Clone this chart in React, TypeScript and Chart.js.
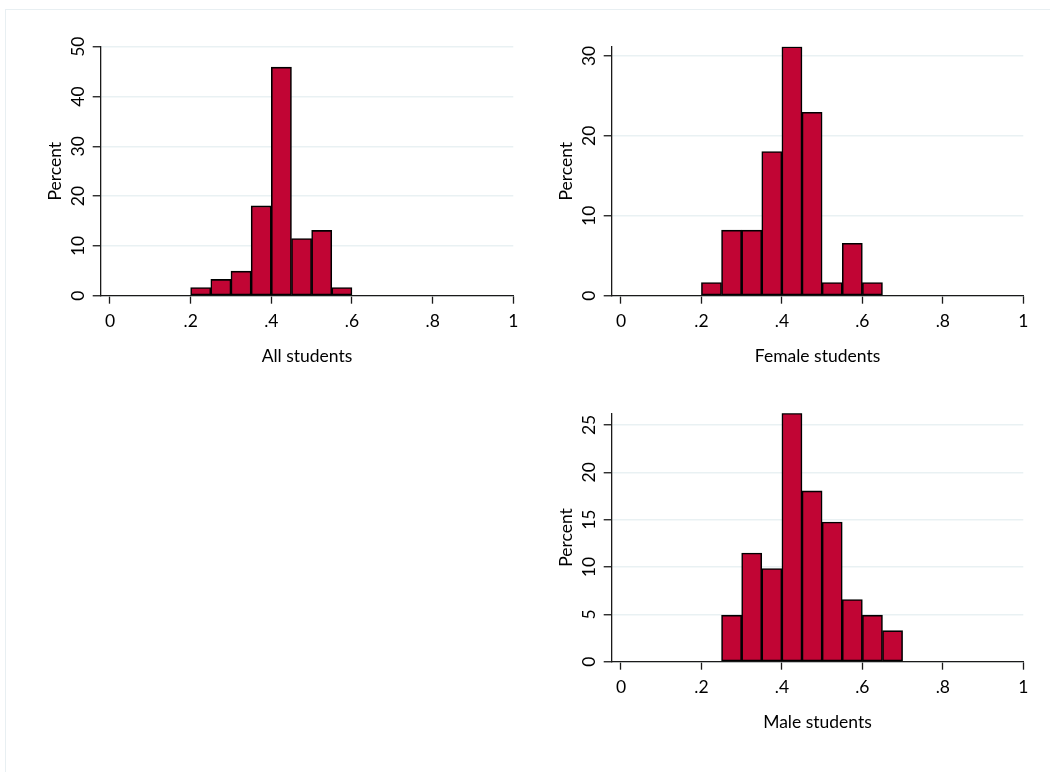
import React, { useEffect, useRef } from "react";
import { Chart, registerables } from "chart.js";

Chart.register(...registerables);

// ---- data ----
const binWidth = 0.05;

const allBinStarts = [0.2, 0.25, 0.3, 0.35, 0.4, 0.45, 0.5, 0.55];
const allPercent = [1.64, 3.28, 4.92, 18.03, 45.9, 11.48, 13.11, 1.64];

const femaleBinStarts = [0.2, 0.25, 0.3, 0.35, 0.4, 0.45, 0.5, 0.55, 0.6];
const femalePercent = [1.64, 8.2, 8.2, 18.03, 31.15, 22.95, 1.64, 6.56, 1.64];

const maleBinStarts = [0.25, 0.3, 0.35, 0.4, 0.45, 0.5, 0.55, 0.6, 0.65];
const malePercent = [4.92, 11.48, 9.84, 26.23, 18.03, 14.75, 6.56, 4.92, 3.28];

const xTickValues = [0, 0.2, 0.4, 0.6, 0.8, 1];
const xTickLabels = ["0", ".2", ".4", ".6", ".8", "1"];

const allYTicks = [0, 10, 20, 30, 40, 50];
const femaleYTicks = [0, 10, 20, 30];
const maleYTicks = [0, 5, 10, 15, 20, 25];

const yAxisTitle = "Percent";
const allTitle = "All students";
const femaleTitle = "Female students";
const maleTitle = "Male students";

// ---- styles ----
const FONT = "Lato";
const FS = 17.5;
const BAR_FILL = "#c10534";
const GRID = "#e9f1f3";
const AXIS = "#1a1a1a";
const CW = 520;
const CH = 360;

type Props = {
  left: number;
  top: number;
  binStarts: number[];
  percents: number[];
  yTicks: number[];
  title: string;
  padTop: number;
  padRight: number;
};

function Histogram({ left, top, binStarts, percents, yTicks, title, padTop, padRight }: Props) {
  const ref = useRef<HTMLCanvasElement | null>(null);

  useEffect(() => {
    if (!ref.current) return;
    const yMax = Math.max(yTicks[yTicks.length - 1], ...percents);
    const chart = new Chart(ref.current, {
      type: "bar",
      data: {
        datasets: [
          {
            data: binStarts.map((s, i) => ({ x: s + binWidth / 2, y: percents[i] })),
            backgroundColor: BAR_FILL,
            borderColor: "#000000",
            borderWidth: 1.6,
            borderSkipped: false,
            barPercentage: 1,
            categoryPercentage: 1,
          },
        ],
      },
      options: {
        responsive: false,
        animation: false,
        devicePixelRatio: 1,
        layout: { padding: { top: padTop, right: padRight, left: 0, bottom: 0 } },
        plugins: { legend: { display: false }, tooltip: { enabled: false } },
        scales: {
          x: {
            type: "linear",
            offset: false,
            min: -0.023,
            max: 1,
            afterBuildTicks: (scale: any) => {
              scale.ticks = xTickValues.map((v) => ({ value: v }));
            },
            afterFit: (scale: any) => {
              scale.height = 84.3;
            },
            grid: {
              display: true,
              offset: false,
              drawOnChartArea: false,
              drawTicks: true,
              tickLength: 8,
              tickColor: AXIS,
              tickWidth: 1.3,
            },
            border: { display: true, color: AXIS, width: 1.3 },
            ticks: {
              autoSkip: false,
              maxRotation: 0,
              minRotation: 0,
              padding: 7.5,
              color: "#000",
              font: { family: FONT, size: FS },
              callback: (_v: any, i: number) => xTickLabels[i],
            },
            title: {
              display: true,
              text: title,
              color: "#000",
              font: { family: FONT, size: FS },
              padding: { top: 0, bottom: 12.8 },
            },
          },
          y: {
            type: "linear",
            min: 0,
            max: yMax,
            afterBuildTicks: (scale: any) => {
              scale.ticks = yTicks.map((v) => ({ value: v }));
            },
            afterFit: (scale: any) => {
              scale.width = 90.7;
            },
            grid: {
              color: GRID,
              lineWidth: 1.5,
              drawOnChartArea: true,
              drawTicks: true,
              tickLength: 8,
              tickColor: AXIS,
              tickWidth: 1.3,
            },
            border: { display: true, color: AXIS, width: 1.3 },
            ticks: {
              autoSkip: false,
              minRotation: 90,
              maxRotation: 90,
              crossAlign: "center",
              padding: 4.5,
              color: "#000",
              font: { family: FONT, size: FS },
              callback: (_v: any, i: number) => String(yTicks[i]),
            },
            title: {
              display: true,
              text: yAxisTitle,
              color: "#000",
              font: { family: FONT, size: FS },
              padding: { top: 34.5, bottom: 0 },
            },
          },
        },
      },
    } as any);
    return () => chart.destroy();
  }, []);

  return (
    <canvas
      ref={ref}
      width={CW}
      height={CH}
      style={{ position: "absolute", left, top, width: CW, height: CH }}
    />
  );
}

export default function App() {
  return (
    <div
      style={{
        position: "absolute",
        left: 0,
        top: 0,
        width: 1050,
        height: 772,
        overflow: "hidden",
        background: "#ffffff",
      }}
    >
      <div
        style={{
          position: "absolute",
          left: 4.5,
          top: 8.5,
          width: 1080,
          height: 800,
          border: "1.5px solid #e8eff2",
          boxSizing: "border-box",
        }}
      />
      <Histogram
        left={10}
        top={20}
        binStarts={allBinStarts}
        percents={allPercent}
        yTicks={allYTicks}
        title={allTitle}
        padTop={26.7}
        padRight={16.7}
      />
      <Histogram
        left={521}
        top={20}
        binStarts={femaleBinStarts}
        percents={femalePercent}
        yTicks={femaleYTicks}
        title={femaleTitle}
        padTop={26.7}
        padRight={17.7}
      />
      <Histogram
        left={521}
        top={386}
        binStarts={maleBinStarts}
        percents={malePercent}
        yTicks={maleYTicks}
        title={maleTitle}
        padTop={27.3}
        padRight={17.7}
      />
    </div>
  );
}
